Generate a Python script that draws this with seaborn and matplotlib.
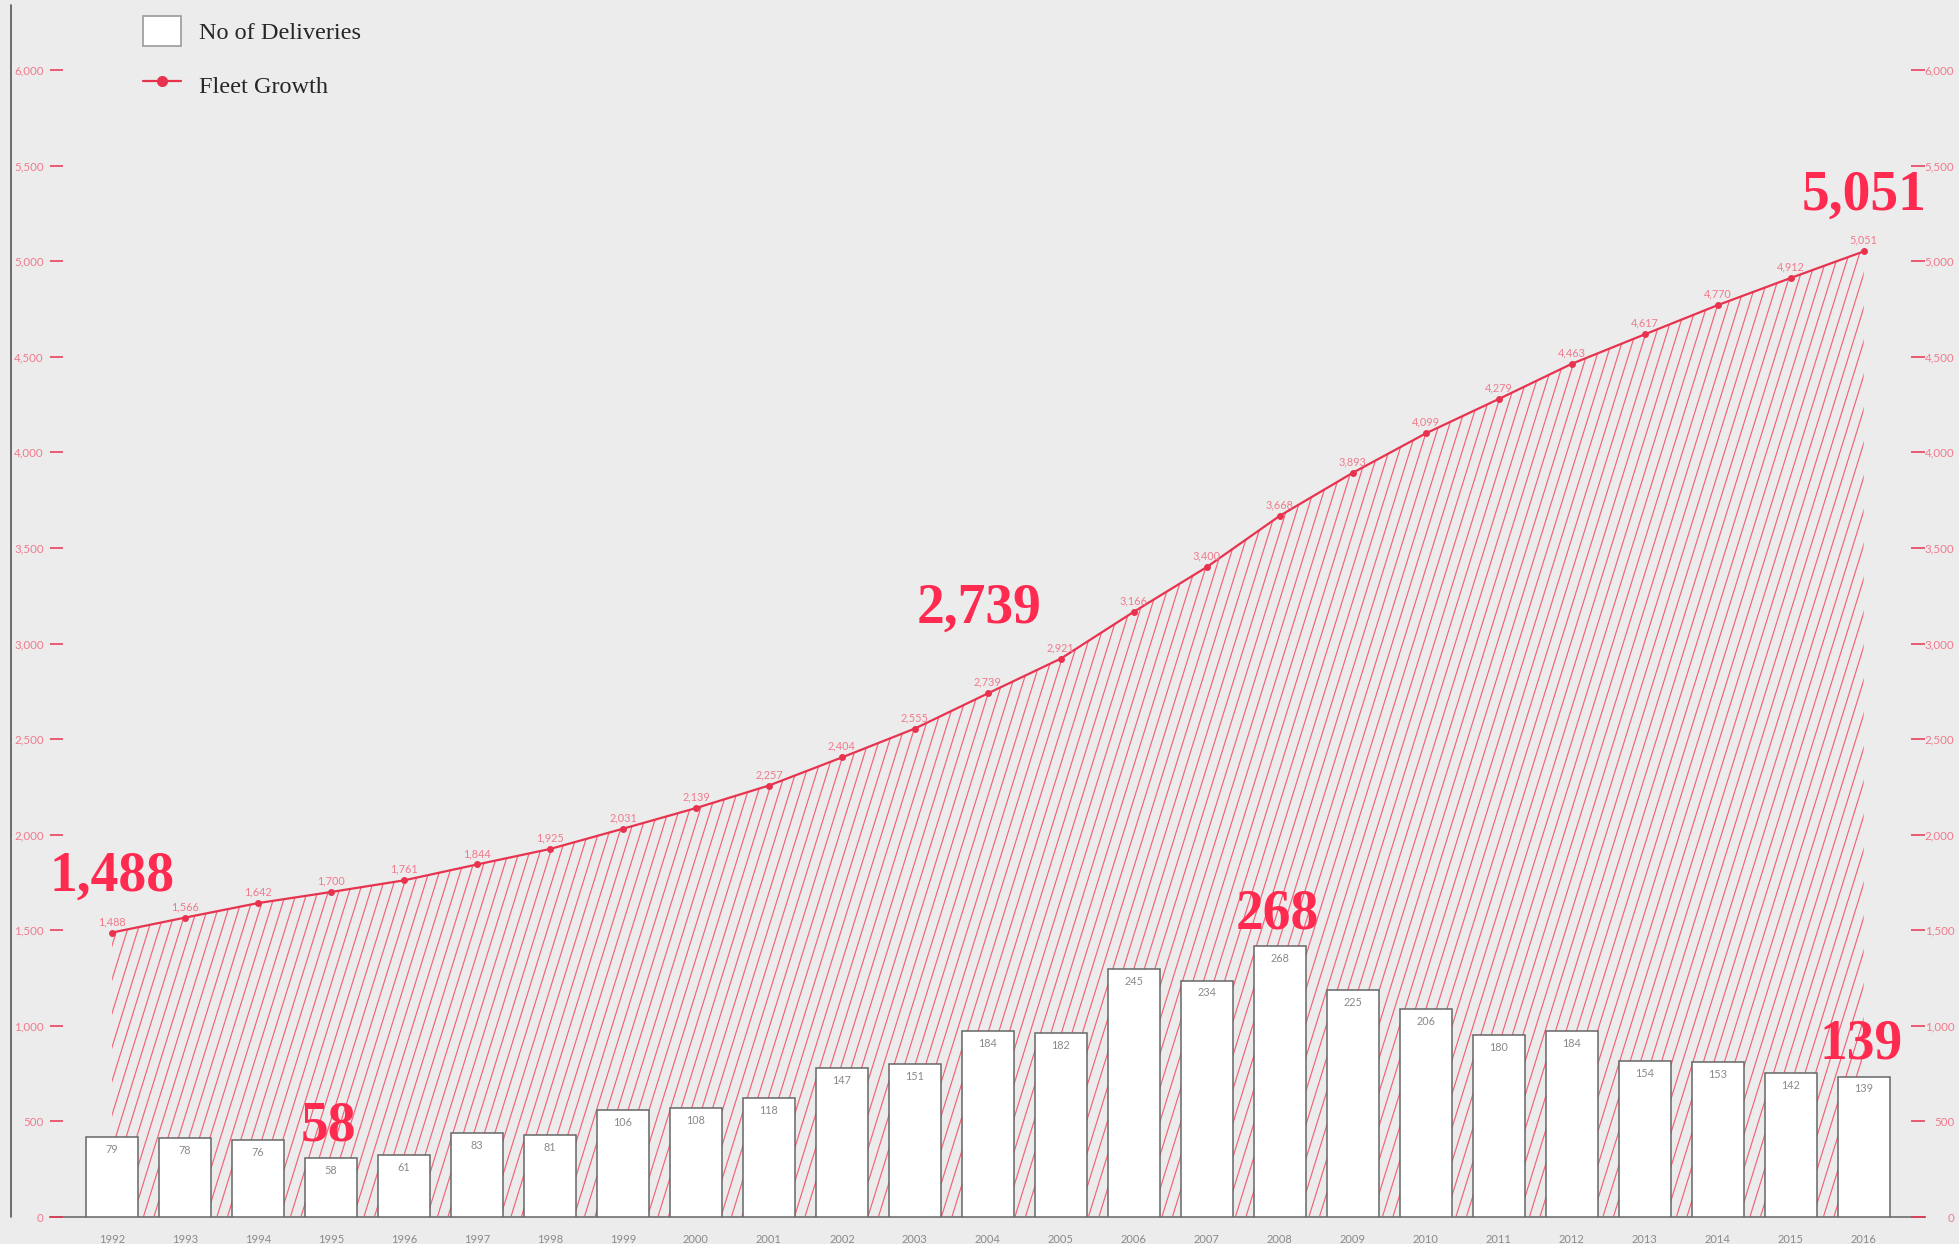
import numpy as np
import matplotlib
matplotlib.use("Agg")
import matplotlib.pyplot as plt
import seaborn as sns
from matplotlib.collections import LineCollection
from matplotlib.transforms import IdentityTransform
from matplotlib.patches import Patch
from matplotlib.lines import Line2D

years = ["1992", "1993", "1994", "1995", "1996", "1997", "1998", "1999", "2000",
         "2001", "2002", "2003", "2004", "2005", "2006", "2007", "2008", "2009",
         "2010", "2011", "2012", "2013", "2014", "2015", "2016"]
deliveries = [79, 78, 76, 58, 61, 83, 81, 106, 108, 118, 147, 151, 184, 182,
              245, 234, 268, 225, 206, 180, 184, 154, 153, 142, 139]
fleet = [1488, 1566, 1642, 1700, 1761, 1844, 1925, 2031, 2139, 2257, 2404, 2555,
         2739, 2921, 3166, 3400, 3668, 3893, 4099, 4279, 4463, 4617, 4770, 4912, 5051]
fleet_ticks = [0, 500, 1000, 1500, 2000, 2500, 3000, 3500, 4000, 4500, 5000, 5500, 6000]
highlight_fleet = ["1992", "2004", "2016"]
highlight_deliv = ["1995", "2008", "2016"]

BG = "#ececec"
RED = "#e8334f"
BIG = "#ff2a4f"
PINK = "#f07a8c"
HATCH = "#f06478"

sns.set_style("white")
plt.rcParams["font.family"] = ["Lato", "DejaVu Sans"]

W, H = 1959, 1244
fig = plt.figure(figsize=(W / 100, H / 100), dpi=100, facecolor=BG)
left, right, bottom, top = 50 / W, 1925 / W, (H - 1217) / H, (H - 70) / H
ax_b = fig.add_axes([left, bottom, right - left, top - bottom])
ax_f = ax_b.twinx()
ax_r = ax_b.twinx()
for a in (ax_b, ax_f, ax_r):
    a.patch.set_visible(False)
    for s in a.spines.values():
        s.set_visible(False)
ax_b.set_zorder(1)
ax_f.set_zorder(2)
ax_r.set_zorder(3)

idx = np.arange(len(years))
xl = (-0.85, len(years) - 1 + 0.84)

# bars
sns.barplot(x=years, y=deliveries, ax=ax_b, color="white", edgecolor="#666666",
            linewidth=1.1, width=0.71, saturation=1, zorder=3)
ax_b.set_ylim(0, 1135)
ax_b.set_xlim(*xl)
ax_b.set_yticks([])
ax_b.spines["bottom"].set_visible(True)
ax_b.spines["bottom"].set_color("#777777")
ax_b.spines["bottom"].set_linewidth(1.3)
ax_b.tick_params(axis="x", length=0, pad=12, labelsize=8, labelcolor="#8a8a8a")
for i, v in enumerate(deliveries):
    ax_b.annotate(f"{v}", (i, v), xytext=(0, -5), textcoords="offset points",
                  ha="center", va="top", fontsize=7.8, color="#8a8a8a", zorder=5)
for y in highlight_deliv:
    i = years.index(y)
    ax_b.annotate(f"{deliveries[i]:,}", (i, deliveries[i]), xytext=(-2, 23),
                  textcoords="offset points", ha="center", va="center",
                  fontsize=40, fontweight="bold", color=BIG,
                  family=["Liberation Serif"], zorder=6)

# fleet line + hatch
ax_f.set_ylim(0, 6000)
poly = ax_f.fill_between(idx, fleet, 0, facecolor="none", edgecolor="none", linewidth=0)
path = poly.get_paths()[0]
segs = []
slope = 0.31
for x0 in np.arange(-600, W + 50, 10.5):
    segs.append([(x0, 0), (x0 + slope * H, H)])
lc = LineCollection(segs, colors=HATCH, linewidths=0.85, transform=IdentityTransform())
lc.set_clip_path(path, ax_f.transData)
ax_b.add_collection(lc, autolim=False)
lc.set_zorder(1)

sns.lineplot(x=idx, y=fleet, ax=ax_f, color=RED, linewidth=1.6, marker="o",
             markersize=5, markeredgewidth=0, zorder=4)
for i, v in enumerate(fleet):
    ax_f.annotate(f"{v:,}", (i, v), xytext=(0, 4), textcoords="offset points",
                  ha="center", va="bottom", fontsize=7.8, color=PINK, zorder=5)
offsets = {"1992": (0, 40), "2004": (-6, 61), "2016": (0, 40)}
for y in highlight_fleet:
    i = years.index(y)
    ax_f.annotate(f"{fleet[i]:,}", (i, fleet[i]), xytext=offsets[y],
                  textcoords="offset points", ha="center", va="center",
                  fontsize=40, fontweight="bold", color=BIG,
                  family=["Liberation Serif"], zorder=6)
ax_f.yaxis.tick_left()
ax_f.set_yticks(fleet_ticks)
ax_f.set_yticklabels([f"{t:,}" for t in fleet_ticks])
ax_f.tick_params(axis="y", direction="in", length=9, width=1.1, color=RED,
                 labelsize=8.3, labelcolor=PINK, pad=4.5)

ax_r.set_ylim(0, 6000)
ax_r.set_yticks(fleet_ticks)
ax_r.set_yticklabels([f"{t:,}" for t in fleet_ticks])
ax_r.tick_params(axis="y", direction="in", length=10, width=1.1, color=RED,
                 labelsize=8.3, labelcolor=PINK, pad=21)
for lab in ax_r.get_yticklabels():
    lab.set_horizontalalignment("right")
ax_f.set_ylabel("")
ax_r.set_ylabel("")
ax_b.set_ylabel("")
ax_b.set_xlim(*xl)

# left frame line
fig.add_artist(Line2D([11 / W, 11 / W], [1 - 5 / H, bottom], transform=fig.transFigure,
                      color="#555555", linewidth=1.2))

handles = [Patch(facecolor="white", edgecolor="#9a9a9a", linewidth=1.2),
           Line2D([0], [0], color=RED, linewidth=1.6, marker="o", markersize=8,
                  markeredgewidth=0)]
fig.legend(handles, ["No of Deliveries", "Fleet Growth"], loc="upper left",
           bbox_to_anchor=(143 / W, 1 - 16 / H), frameon=False,
           prop={"family": "Liberation Serif", "size": 17.5},
           handlelength=1.55, handleheight=1.55, handletextpad=0.76,
           labelspacing=0.95, borderpad=0, borderaxespad=0)

fig.savefig("out.png", dpi=100, facecolor=BG)
